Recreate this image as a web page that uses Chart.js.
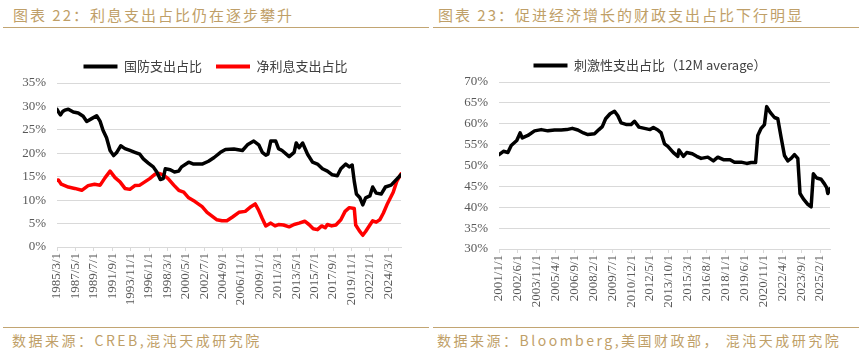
<!DOCTYPE html>
<html><head><meta charset="utf-8">
<script src="https://cdn.jsdelivr.net/npm/chart.js@4.4.1/dist/chart.umd.min.js"></script>
<style>
body{margin:0;width:859px;height:355px;background:#fff;position:relative;overflow:hidden;font-family:"Noto Sans CJK SC",sans-serif;}
.title{position:absolute;top:5px;line-height:20px;font-size:15px;color:#bf9f68;letter-spacing:2px;white-space:nowrap;}
.rule{position:absolute;height:1px;background:#c2a572;}
.src{position:absolute;top:331px;line-height:18px;font-size:14px;color:#bf9f68;letter-spacing:2.5px;white-space:nowrap;}
.box{position:absolute;top:40px;height:285px;}
</style></head><body>
<div class="title" style="left:13px">图表 22：利息支出占比仍在逐步攀升</div>
<div class="title" style="left:438px">图表 23：促进经济增长的财政支出占比下行明显</div>
<div class="rule" style="left:3px;width:426px;top:27px"></div>
<div class="rule" style="left:433px;width:426px;top:27px"></div>
<div class="rule" style="left:3px;width:426px;top:327px"></div>
<div class="rule" style="left:433px;width:426px;top:327px"></div>
<div class="src" style="left:12px">数据来源：CREB,混沌天成研究院</div>
<div class="src" style="left:437px">数据来源：Bloomberg,美国财政部， 混沌天成研究院</div>
<div class="box" style="left:0;width:430px"><canvas id="c1" width="430" height="285"></canvas></div>
<div class="box" style="left:430px;width:429px"><canvas id="c2" width="429" height="285"></canvas></div>
<script>
// ---- Chart 22: months counted from 1985/3 ----
const leftTickLabels = ['1985/3/1','1987/5/1','1989/7/1','1991/9/1','1993/11/1','1996/1/1','1998/3/1','2000/5/1','2002/7/1','2004/9/1','2006/11/1','2009/1/1','2011/3/1','2013/5/1','2015/7/1','2017/9/1','2019/11/1','2022/1/1','2024/3/1'];
const defenseMonthIdx = [0,3,5,8,11,16,23,30,37,42,49,56,61,65,70,75,80,84,90,96,103,110,117,122,129,136,141,146,150,153,160,166,172,176,186,193,205,214,222,231,238,250,262,269,278,285,290,295,298,302,309,313,318,328,335,338,342,347,354,361,368,375,382,389,396,401,408,413,417,420,423,428,432,436,442,446,451,458,464,472,477,486];
const defenseShare = [29.4,28.6,28.2,28.9,29.2,29.4,28.8,28.6,27.9,26.8,27.4,28.0,26.8,24.9,23.3,20.6,19.5,20.1,21.6,21.0,20.6,20.2,19.8,18.8,17.9,17.1,16.0,14.4,14.6,16.7,16.5,16.0,16.2,17.1,18.1,17.7,17.7,18.3,19.1,20.2,20.8,20.9,20.6,21.8,22.6,21.8,20.2,19.6,19.8,22.6,22.6,21.0,20.6,19.3,20.2,22.2,21.2,22.2,19.8,18.1,17.7,16.7,16.2,15.4,15.2,16.7,17.7,17.1,17.5,14.0,11.3,10.5,9.0,10.5,10.9,12.8,11.5,11.3,12.8,13.2,14.0,15.4];
const interestMonthIdx = [0,2,6,16,25,35,44,53,61,68,75,82,89,96,103,110,117,124,131,139,144,150,157,165,172,179,186,195,205,212,219,226,233,240,248,257,266,274,280,285,290,295,302,308,313,320,328,335,342,350,356,362,368,374,379,382,388,394,401,407,413,420,422,427,432,436,442,446,451,456,461,467,475,480,486];
const interestShare = [14.2,14.3,13.4,12.8,12.5,12.1,13.1,13.4,13.2,14.8,16.2,14.8,13.9,12.5,12.3,13.1,13.2,13.9,14.6,15.6,15.7,15.4,14.6,13.2,12.1,11.7,10.5,9.7,8.6,7.4,6.6,5.8,5.6,5.6,6.4,7.4,7.6,8.6,9.2,7.8,6.1,4.5,5.1,4.5,4.8,4.7,4.3,4.8,5.1,5.5,4.8,3.9,3.7,4.5,4.1,4.8,4.5,4.7,5.8,7.6,8.4,8.2,4.7,3.5,2.5,3.3,4.7,5.6,5.3,5.8,7.2,9.3,11.7,14.0,15.6];
const leftSeriesNames = ['国防支出占比','净利息支出占比'];

// ---- Chart 23: months counted from 2001/1 ----
const rightTickLabels = ['2001/1/1','2002/6/1','2003/11/1','2005/4/1','2006/9/1','2008/2/1','2009/7/1','2010/12/1','2012/5/1','2013/10/1','2015/3/1','2016/8/1','2018/1/1','2019/6/1','2020/11/1','2022/4/1','2023/9/1','2025/2/1'];
const stimulusMonthIdx = [0,4,8,11,16,19,21,26,32,38,44,50,56,61,66,71,76,80,86,90,93,96,100,104,107,110,115,119,122,126,131,136,139,143,146,149,152,157,161,162,166,169,174,178,182,188,193,197,202,208,212,218,223,227,231,233,236,239,241,244,248,251,254,257,260,263,266,269,271,274,278,281,283,286,290,293,295,296,298];
const stimulusShare = [52.6,53.4,53.1,54.8,56.0,57.8,56.6,57.2,58.3,58.6,58.3,58.5,58.5,58.6,58.9,58.5,57.8,57.4,57.6,58.6,59.3,61.2,62.4,63.0,61.9,60.2,59.8,59.8,60.6,59.2,58.9,58.6,59.1,58.5,57.8,55.2,54.6,53.1,52.2,53.7,52.2,53.1,52.8,52.2,51.7,52.0,51.1,52.0,51.4,51.4,50.8,50.8,50.5,50.7,50.7,57.2,58.9,59.8,64.1,62.8,61.5,61.2,56.7,52.4,51.1,51.7,52.6,51.7,43.3,42.0,40.7,40.1,48.0,47.0,46.7,45.6,44.7,43.3,44.4];
const rightSeriesName = '刺激性支出占比（12M average）';

function monthIndex(label, baseYear, baseMonth){
  const p = label.split('/').map(Number);
  return (p[0]-baseYear)*12 + (p[1]-baseMonth);
}
function pts(xs, ys){ return xs.map((x,i)=>({x:x, y:ys[i]})); }

const GRID = '#d9d9d9';
const TICKFONT = {family:'"Liberation Serif", "Times New Roman", serif', size:13};
const TICKCOLOR = '#595959';

function legendLabels(chart){
  const items = Chart.defaults.plugins.legend.labels.generateLabels(chart);
  return items.map(it => Object.assign(it, {lineWidth:0, fillStyle: chart.data.datasets[it.datasetIndex].borderColor, strokeStyle:'rgba(0,0,0,0)'}));
}

function makeChart(id, cfg){
  const tickIdx = cfg.tickLabels.map(l => monthIndex(l, cfg.baseYear, cfg.baseMonth));
  return new Chart(document.getElementById(id), {
    type:'line',
    data:{datasets: cfg.datasets.map(d => ({
      label:d.label, data:d.data, borderColor:d.color, backgroundColor:d.color,
      borderWidth:3.5, pointRadius:0, tension:0, borderJoinStyle:'round', borderCapStyle:'round', fill:false
    }))},
    plugins:[{id:'legendShift', afterLayout(chart){ const l = chart.legend; if(l){ l.left += cfg.legendShift; l.right += cfg.legendShift; } }}],
    options:{
      responsive:false, animation:false, devicePixelRatio:1,
      layout:{padding:{top:cfg.padTop, right:29, left:0, bottom:0}},
      plugins:{
        tooltip:{enabled:false},
        legend:{display:true, position:'top', align:'center',
          labels:{boxWidth:34, boxHeight:4, padding:14, color:'#404040',
            font:{family:'"Noto Sans CJK SC"', size:13}, generateLabels:legendLabels}}
      },
      scales:{
        x:{type:'linear', min:0, max:cfg.xMax,
          afterBuildTicks:(s)=>{ s.ticks = tickIdx.map(v=>({value:v})); },
          afterFit:(s)=>{ s.height = cfg.xHeight; },
          grid:{display:true, drawOnChartArea:false, drawTicks:true, tickLength:4, color:GRID},
          border:{display:true, color:GRID},
          ticks:{autoSkip:false, maxRotation:90, minRotation:90, padding:2, font:TICKFONT, color:TICKCOLOR,
            callback:(v,i)=>cfg.tickLabels[i]}
        },
        y:{min:cfg.yMin, max:cfg.yMax,
          afterFit:(s)=>{ s.width = cfg.yWidth; },
          grid:{color:GRID, drawTicks:false},
          border:{display:false},
          ticks:{stepSize:5, padding:11, font:TICKFONT, color:TICKCOLOR, callback:v=>v+'%'}
        }
      }
    }
  });
}

makeChart('c1', {
  tickLabels:leftTickLabels, baseYear:1985, baseMonth:3, xMax:486,
  yMin:0, yMax:35, yWidth:57, xHeight:78, padTop:6, legendShift:15,
  datasets:[
    {label:leftSeriesNames[0], data:pts(defenseMonthIdx, defenseShare), color:'#000000'},
    {label:leftSeriesNames[1], data:pts(interestMonthIdx, interestShare), color:'#ff0000'}
  ]
});
makeChart('c2', {
  tickLabels:rightTickLabels, baseYear:2001, baseMonth:1, xMax:298,
  yMin:30, yMax:70, yWidth:69, xHeight:76, padTop:5, legendShift:20,
  datasets:[
    {label:rightSeriesName, data:pts(stimulusMonthIdx, stimulusShare), color:'#000000'}
  ]
});
</script>
</body></html>
